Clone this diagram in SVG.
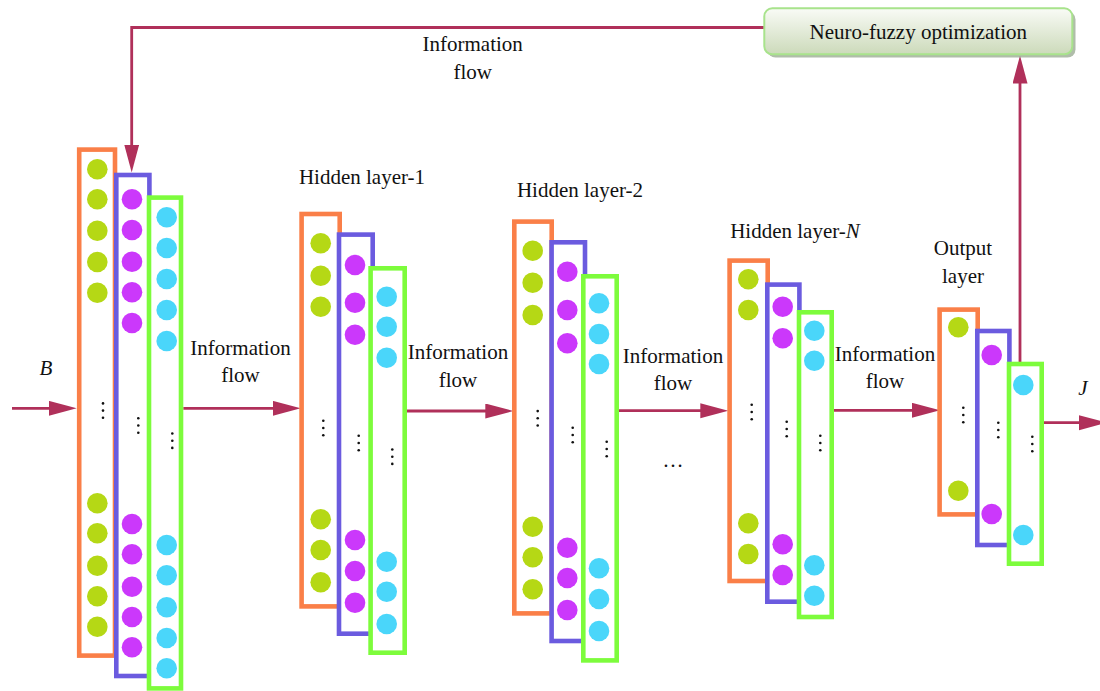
<svg xmlns="http://www.w3.org/2000/svg" width="1100" height="691" viewBox="0 0 1100 691">
<defs>
<style>
.ro{fill:#fff;stroke:#FA7F48;stroke-width:4.6}
.rp{fill:#fff;stroke:#6B5BDF;stroke-width:4.6}
.rg{fill:#fff;stroke:#7DFC3C;stroke-width:4.6}
.g{fill:#B5D815}
.p{fill:#CB38FB}
.c{fill:#4AD6FA}
.vd{fill:#111}
.t{font-family:"Liberation Serif","Times New Roman",serif;font-size:21px;fill:#111;text-anchor:middle}
.ti{font-style:italic}
.ln{fill:none;stroke:#B0305A;stroke-width:2.8;marker-end:url(#ah)}
</style>
<marker id="ah" markerUnits="userSpaceOnUse" markerWidth="30" markerHeight="16" refX="18" refY="7.5" orient="auto">
<path d="M0,0 L28,7.5 L0,15 z" fill="#B0305A"/>
</marker>
<linearGradient id="bg" x1="0" y1="0" x2="0" y2="1">
<stop offset="0" stop-color="#F9FBF6"/>
<stop offset="1" stop-color="#CCDABA"/>
</linearGradient>
<g id="vdots"><circle cx="0" cy="-7.2" r="1.3"/><circle cx="0" cy="0" r="1.3"/><circle cx="0" cy="7.2" r="1.3"/></g>
</defs>
<rect width="1100" height="691" fill="#fff"/>

<g id="connectors">
<path class="ln" d="M12,408.3 H66.7"/>
<path class="ln" d="M183.3,408.3 H290.7"/>
<path class="ln" d="M404.7,411 H503.3"/>
<path class="ln" d="M616.7,410.7 H718.3"/>
<path class="ln" d="M831.7,410.3 H930"/>
<path class="ln" d="M1041.7,422.7 H1097"/>
<path class="ln" d="M1020,362 V65.5"/>
<path class="ln" d="M764,27.5 H131.7 V162.5"/>
</g>

<g id="input-layer">
<rect class="ro" x="79.2" y="149.6" width="35.8" height="506"/>
<rect class="rp" x="116.3" y="175" width="33.1" height="501"/>
<rect class="rg" x="149" y="197.6" width="32" height="490.8"/>
<g class="g"><circle cx="97.3" cy="169.3" r="10.3"/><circle cx="97.3" cy="199.3" r="10.3"/><circle cx="97.3" cy="230.7" r="10.3"/><circle cx="97.3" cy="262" r="10.3"/><circle cx="97.3" cy="292.7" r="10.3"/><circle cx="97.3" cy="503.3" r="10.3"/><circle cx="97.3" cy="533.3" r="10.3"/><circle cx="97.3" cy="565.7" r="10.3"/><circle cx="97.3" cy="596.3" r="10.3"/><circle cx="97.3" cy="626.7" r="10.3"/></g>
<g class="p"><circle cx="132" cy="199.3" r="10.3"/><circle cx="132" cy="230" r="10.3"/><circle cx="132" cy="261.7" r="10.3"/><circle cx="132" cy="292.3" r="10.3"/><circle cx="132" cy="323" r="10.3"/><circle cx="132" cy="524" r="10.3"/><circle cx="132" cy="554.3" r="10.3"/><circle cx="132" cy="586.7" r="10.3"/><circle cx="132" cy="617" r="10.3"/><circle cx="132" cy="647.3" r="10.3"/></g>
<g class="c"><circle cx="166.7" cy="217.3" r="10.3"/><circle cx="166.7" cy="248" r="10.3"/><circle cx="166.7" cy="279" r="10.3"/><circle cx="166.7" cy="310" r="10.3"/><circle cx="166.7" cy="341" r="10.3"/><circle cx="166.7" cy="545" r="10.3"/><circle cx="166.7" cy="575.3" r="10.3"/><circle cx="166.7" cy="607.3" r="10.3"/><circle cx="166.7" cy="638" r="10.3"/><circle cx="166.7" cy="668.3" r="10.3"/></g>
<g class="vd"><use href="#vdots" x="103" y="410.6"/><use href="#vdots" x="138.3" y="425.5"/><use href="#vdots" x="172.3" y="440.7"/></g>
</g>

<g id="hidden-layer-1">
<rect class="ro" x="301.6" y="214" width="38.1" height="392.4"/>
<rect class="rp" x="339" y="234.6" width="33.7" height="399.1"/>
<rect class="rg" x="370.6" y="268.3" width="34.1" height="384.4"/>
<g class="g"><circle cx="320.7" cy="243.3" r="10.3"/><circle cx="320.7" cy="275.7" r="10.3"/><circle cx="320.7" cy="306.7" r="10.3"/><circle cx="320.7" cy="519.3" r="10.3"/><circle cx="320.7" cy="550" r="10.3"/><circle cx="320.7" cy="582.3" r="10.3"/></g>
<g class="p"><circle cx="355" cy="265" r="10.3"/><circle cx="355" cy="302.7" r="10.3"/><circle cx="355" cy="334.7" r="10.3"/><circle cx="355" cy="540" r="10.3"/><circle cx="355" cy="571" r="10.3"/><circle cx="355" cy="602.7" r="10.3"/></g>
<g class="c"><circle cx="386.7" cy="296.7" r="10.3"/><circle cx="386.7" cy="326.7" r="10.3"/><circle cx="386.7" cy="357.7" r="10.3"/><circle cx="386.7" cy="561.7" r="10.3"/><circle cx="386.7" cy="591.7" r="10.3"/><circle cx="386.7" cy="624" r="10.3"/></g>
<g class="vd"><use href="#vdots" x="323.3" y="428"/><use href="#vdots" x="358.7" y="443"/><use href="#vdots" x="392.3" y="456.7"/></g>
</g>

<g id="hidden-layer-2">
<rect class="ro" x="514.3" y="221.6" width="37.4" height="391.8"/>
<rect class="rp" x="551.6" y="242.3" width="33.4" height="398.7"/>
<rect class="rg" x="583.3" y="276.3" width="33.4" height="384.1"/>
<g class="g"><circle cx="532.7" cy="250.7" r="10.3"/><circle cx="532.7" cy="282.7" r="10.3"/><circle cx="532.7" cy="315" r="10.3"/><circle cx="532.7" cy="526.7" r="10.3"/><circle cx="532.7" cy="557.3" r="10.3"/><circle cx="532.7" cy="589.3" r="10.3"/></g>
<g class="p"><circle cx="567.3" cy="271.7" r="10.3"/><circle cx="567.3" cy="310" r="10.3"/><circle cx="567.3" cy="343.3" r="10.3"/><circle cx="567.3" cy="547.7" r="10.3"/><circle cx="567.3" cy="578" r="10.3"/><circle cx="567.3" cy="610" r="10.3"/></g>
<g class="c"><circle cx="599" cy="303.3" r="10.3"/><circle cx="599" cy="334" r="10.3"/><circle cx="599" cy="364" r="10.3"/><circle cx="599" cy="568.3" r="10.3"/><circle cx="599" cy="599" r="10.3"/><circle cx="599" cy="631" r="10.3"/></g>
<g class="vd"><use href="#vdots" x="537.7" y="418.3"/><use href="#vdots" x="572.7" y="435"/><use href="#vdots" x="606.7" y="449"/></g>
</g>

<g id="hidden-layer-n">
<rect class="ro" x="729.6" y="260.6" width="38.1" height="320.4"/>
<rect class="rp" x="767.3" y="284.6" width="32.1" height="317.1"/>
<rect class="rg" x="799" y="312.3" width="32.7" height="304.7"/>
<g class="g"><circle cx="748.3" cy="279.3" r="10.3"/><circle cx="748.3" cy="310" r="10.3"/><circle cx="748.3" cy="523.3" r="10.3"/><circle cx="748.3" cy="554" r="10.3"/></g>
<g class="p"><circle cx="782.7" cy="306.7" r="10.3"/><circle cx="782.7" cy="338.3" r="10.3"/><circle cx="782.7" cy="544.3" r="10.3"/><circle cx="782.7" cy="575" r="10.3"/></g>
<g class="c"><circle cx="814.3" cy="330.7" r="10.3"/><circle cx="814.3" cy="360.7" r="10.3"/><circle cx="814.3" cy="565.3" r="10.3"/><circle cx="814.3" cy="595.7" r="10.3"/></g>
<g class="vd"><use href="#vdots" x="751.7" y="412"/><use href="#vdots" x="786.7" y="429"/><use href="#vdots" x="820.3" y="443"/></g>
</g>

<g id="output-layer">
<rect class="ro" x="939.6" y="309.6" width="38.1" height="204.8"/>
<rect class="rp" x="977.3" y="331" width="32.1" height="214"/>
<rect class="rg" x="1009" y="364" width="32.7" height="199.7"/>
<circle class="g" cx="958.3" cy="327.3" r="10.3"/><circle class="g" cx="958.3" cy="490.7" r="10.3"/>
<circle class="p" cx="991.7" cy="355" r="10.3"/><circle class="p" cx="991.7" cy="514" r="10.3"/>
<circle class="c" cx="1023.3" cy="385" r="10.3"/><circle class="c" cx="1023.3" cy="535" r="10.3"/>
<g class="vd"><use href="#vdots" x="963.3" y="415"/><use href="#vdots" x="998.3" y="430"/><use href="#vdots" x="1032.3" y="444"/></g>
</g>

<g id="neuro-fuzzy">
<rect x="767.5" y="11.5" width="308" height="46" rx="8" fill="#8FA186" opacity="0.7"/>
<rect x="764.3" y="8.3" width="308" height="46" rx="8" fill="url(#bg)" stroke="#A8E38C" stroke-width="2"/>
<text class="t" x="918.3" y="38.5">Neuro-fuzzy optimization</text>
</g>

<g id="labels">
<text class="t" x="472.7" y="51">Information</text>
<text class="t" x="472.7" y="78.5">flow</text>
<text class="t" x="240.5" y="354.5">Information</text>
<text class="t" x="240.5" y="382">flow</text>
<text class="t" x="458" y="359">Information</text>
<text class="t" x="458" y="386.5">flow</text>
<text class="t" x="673" y="363">Information</text>
<text class="t" x="673" y="390">flow</text>
<text class="t" x="885" y="361">Information</text>
<text class="t" x="885" y="388">flow</text>
<text class="t" x="362" y="184.3">Hidden layer-1</text>
<text class="t" x="580" y="197.3">Hidden layer-2</text>
<text class="t" x="795" y="238.3">Hidden layer-<tspan class="ti">N</tspan></text>
<text class="t" x="963" y="255">Output</text>
<text class="t" x="963" y="282.5">layer</text>
<text class="t ti" x="46" y="375">B</text>
<text class="t ti" x="1083" y="395">J</text>
<text class="t" x="673" y="467">…</text>
</g>
</svg>
